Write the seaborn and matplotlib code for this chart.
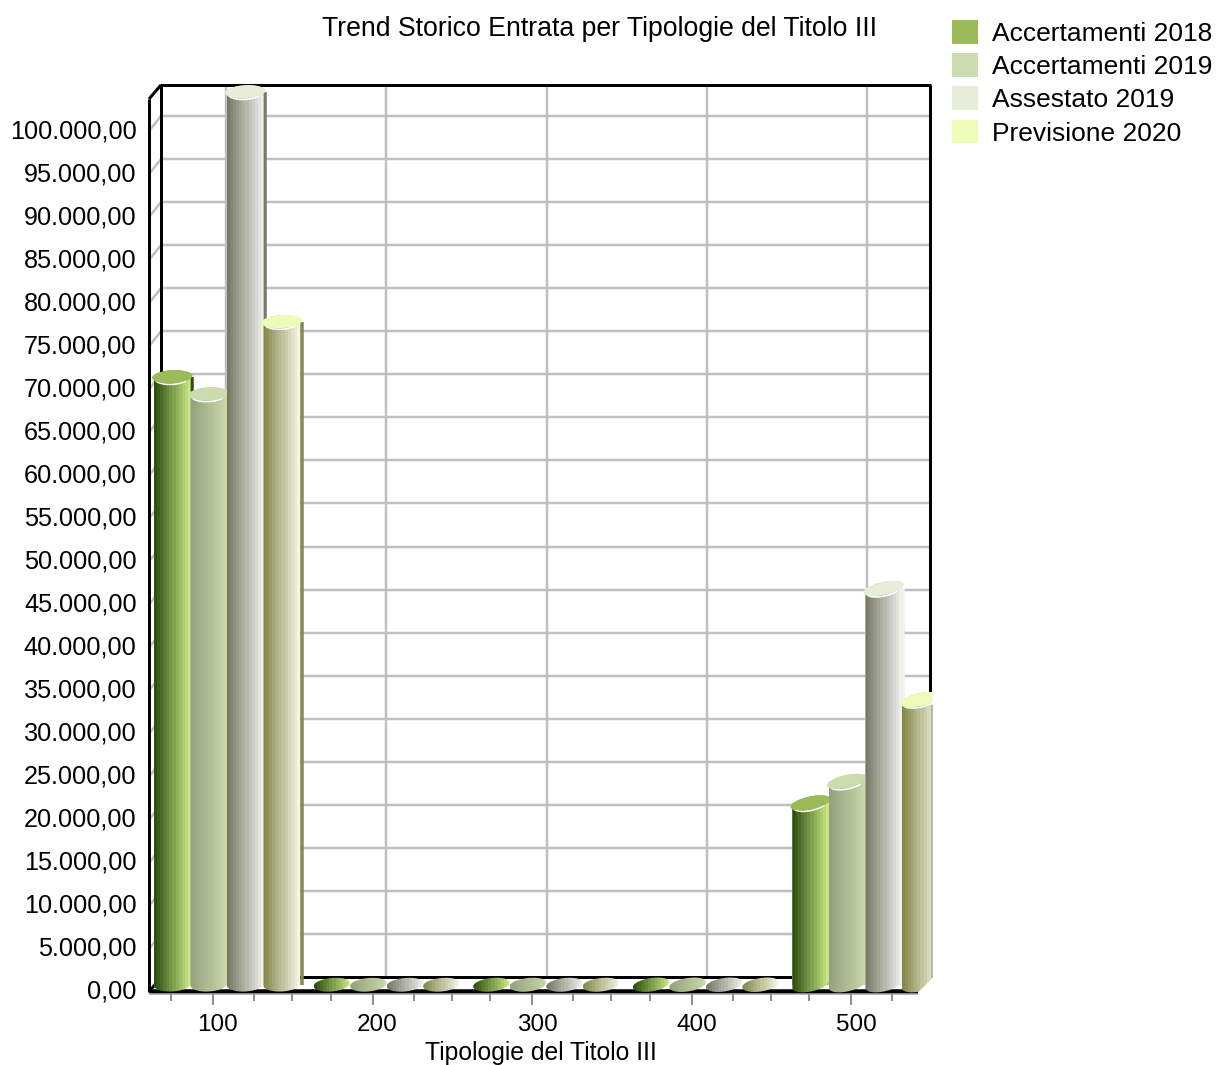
import numpy as np
import pandas as pd
import matplotlib
matplotlib.use('Agg')
import matplotlib.pyplot as plt
import seaborn as sns
from matplotlib.colors import LinearSegmentedColormap
from matplotlib.patches import Polygon
from matplotlib.transforms import Affine2D

### values
categories = ['100', '200', '300', '400', '500']
acc_2018 = [70600, 0, 0, 0, 21100]
acc_2019 = [68600, 0, 0, 0, 23600]
ass_2019 = [103700, 0, 0, 0, 46000]
prev_2020 = [77000, 0, 0, 0, 33100]
series_names = ['Accertamenti 2018', 'Accertamenti 2019', 'Assestato 2019', 'Previsione 2020']
top_colors = ['#9bbb59', '#cddcaf', '#e6edd9', '#edfcb6']
dark_colors = ['#2f5012', '#95a27d', '#777b66', '#84894c']
light_colors = ['#c8e884', '#c9d7aa', '#eeeeea', '#f3f4e4']
y_ticks = list(range(0, 100001, 5000))

W, H = 1216, 1065
GRAY = '#c0c0c0'
LW = 0.72  # one reference pixel in points

sns.set_theme(style='white')
plt.rcParams['font.family'] = ['Liberation Sans', 'DejaVu Sans']

fig = plt.figure(figsize=(W / 100, H / 100), dpi=100)
ax = fig.add_axes([155 / W, 1 - 984.5 / H, 769 / W, 904 / H])
ax.patch.set_visible(False)

# reference pixel coordinates -> display
px = Affine2D().scale(1, -1).translate(0, H)


def seg(xs, ys, color='black', width=3, z=1):
    ax.plot(xs, ys, color=color, lw=width * LW, transform=px, clip_on=False,
            zorder=z, solid_capstyle='butt')


def arc(cx, cy, rx, ry, tilt, t0, t1, n=40):
    t = np.radians(np.linspace(t0, t1, n))
    x = rx * np.cos(t)
    y = ry * np.sin(t)
    return np.column_stack([cx + x, cy + y - np.tan(np.radians(tilt)) * x])


### build the table and let seaborn place the bars
rows = []
for name, vals in zip(series_names, [acc_2018, acc_2019, ass_2019, prev_2020]):
    for c, v in zip(categories, vals):
        rows.append({'tipologia': c, 'serie': name, 'valore': v})
df = pd.DataFrame(rows)

sns.barplot(data=df, x='tipologia', y='valore', hue='serie', palette=top_colors,
            width=0.915, gap=0, saturation=1, linewidth=0, ax=ax)

ax.set_autoscale_on(False)
ax.set_xlim(-0.451, 4.367)
ax.set_ylim(0, 105000)
sns.despine(ax=ax, left=True, bottom=True)

### walls and grid
for v in y_ticks[1:]:
    yb = 977 - v * 0.00861
    seg([161, 930], [yb, yb], GRAY, 2.5, 1)
    seg([149, 161], [yb + 15, yb], GRAY, 2.5, 1)
for xg in [226, 386, 547, 707, 867]:
    seg([xg, xg], [85, 977], GRAY, 2.5, 1)
seg([149, 149], [99, 992])
seg([161, 161], [85, 977])
seg([149, 161], [99, 85])
seg([160, 931], [85, 85])
seg([930, 930], [85, 700])
seg([161, 930], [977, 977])
seg([149, 161], [992, 977])
seg([149, 918], [991, 991], 'black', 4.5, 1.5)

### cylinders on top of the seaborn bars
bands = np.linspace(0, 1, 12).reshape(1, -1)
for s, cont in enumerate(ax.containers):
    cmap = LinearSegmentedColormap.from_list('c%d' % s, [dark_colors[s], light_colors[s]])
    for g, bar in enumerate(cont):
        z = 3 + s
        bar.set_zorder(z)
        (x0, yb), (x1, yt) = ax.transData.transform(
            [(bar.get_x(), 0), (bar.get_x() + bar.get_width(), bar.get_height())])
        yb, yt = H - yb, H - yt
        cx = (x0 + x1) / 2
        rx = (x1 - x0) / 2
        tilt = [3, 5, 6, 8, 11][g]

        # back edge of the cylinder
        if bar.get_height() > 0 and g == 0:
            seg([x1 + 1.5, x1 + 1.5], [yt, yb], dark_colors[s], 3.5, z)
        if bar.get_height() > 0 and g == 4 and s == 2:
            seg([x1 + 1.5, x1 + 1.5], [yt, yb], '#f0f1ee', 3.5, z)

        outline = np.vstack([arc(cx, yb, rx, 7, tilt, 180, 0),
                             arc(cx, yt, rx, 6.5, tilt, 0, -180)])
        im = ax.imshow(bands, cmap=cmap, aspect='auto', interpolation='nearest',
                       extent=(x0, x1, yb + 10, yt - 10), zorder=z)
        im.set_transform(px)
        im.set_clip_box(fig.bbox)
        im.set_clip_path(Polygon(outline, transform=px))

        if bar.get_height() > 0:
            front = arc(cx, yt + 1.2, rx - 1, 6.5, tilt, 160, 40)
            ax.plot(front[:, 0], front[:, 1], color='white', lw=1.6 * LW, transform=px,
                    clip_on=False, zorder=z)
            ax.add_patch(Polygon(arc(cx, yt, rx + 2, 6.5, tilt, 0, 360), closed=True,
                                 fc=top_colors[s], ec='none', transform=px,
                                 clip_on=False, zorder=z))

### the plot box cuts off whatever goes past the right wall
ax.add_patch(Polygon([(932.5, 75), (945, 75), (945, 1000), (918, 1000), (918, 992.5), (932.5, 978)],
                     closed=True, fc='white', ec='none', transform=px, clip_on=False, zorder=20))
seg([931.5, 931.5], [705, 978], '#a8a8a8', 1.5, 21)
seg([149, 918], [994, 994], '#a0a0a0', 1.5, 21)
for i in range(5):
    base = 171 + 159.5 * i
    for j, off in enumerate([0, 42, 83, 121]):
        if base + off < 918:
            seg([base + off] * 2, [994, 1005 if j == 1 else 1001], '#909090', 2, 21)

### axis text
ax.set_yticks(y_ticks)
ax.set_yticklabels([f'{v:,d}'.replace(',', '.') + ',00' for v in y_ticks],
                   fontsize=18.2, color='black')
ax.tick_params(axis='y', length=0, pad=13.3)
ax.tick_params(axis='x', length=0, pad=21, labelsize=17.5, labelcolor='black')
for lab in ax.get_yticklabels():
    lab.set_transform(lab.get_transform() + Affine2D().translate(0, -5))
for lab in ax.get_xticklabels():
    lab.set_transform(lab.get_transform() + Affine2D().translate(-9, 0))

ax.set_ylabel('')
ax.set_xlabel('Tipologie del Titolo III', fontsize=17.8, color='black')
ax.xaxis.set_label_coords(541, 1041, transform=px)

t = ax.set_title('Trend Storico Entrata per Tipologie del Titolo III', fontsize=19.2,
                 color='black', y=1)
t.set_transform(px)
t.set_position((599, 29))
t.set_va('center')

sns.move_legend(ax, 'upper left', bbox_to_anchor=(952 / W, 1 - 20 / H),
                bbox_transform=fig.transFigure, frameon=False, title=None, fontsize=19,
                handlelength=1, handleheight=1, handletextpad=0.53, labelspacing=0.28,
                borderpad=0, borderaxespad=0)
for txt in ax.get_legend().get_texts():
    txt.set_color('black')

fig.savefig('out.png', dpi=100)
